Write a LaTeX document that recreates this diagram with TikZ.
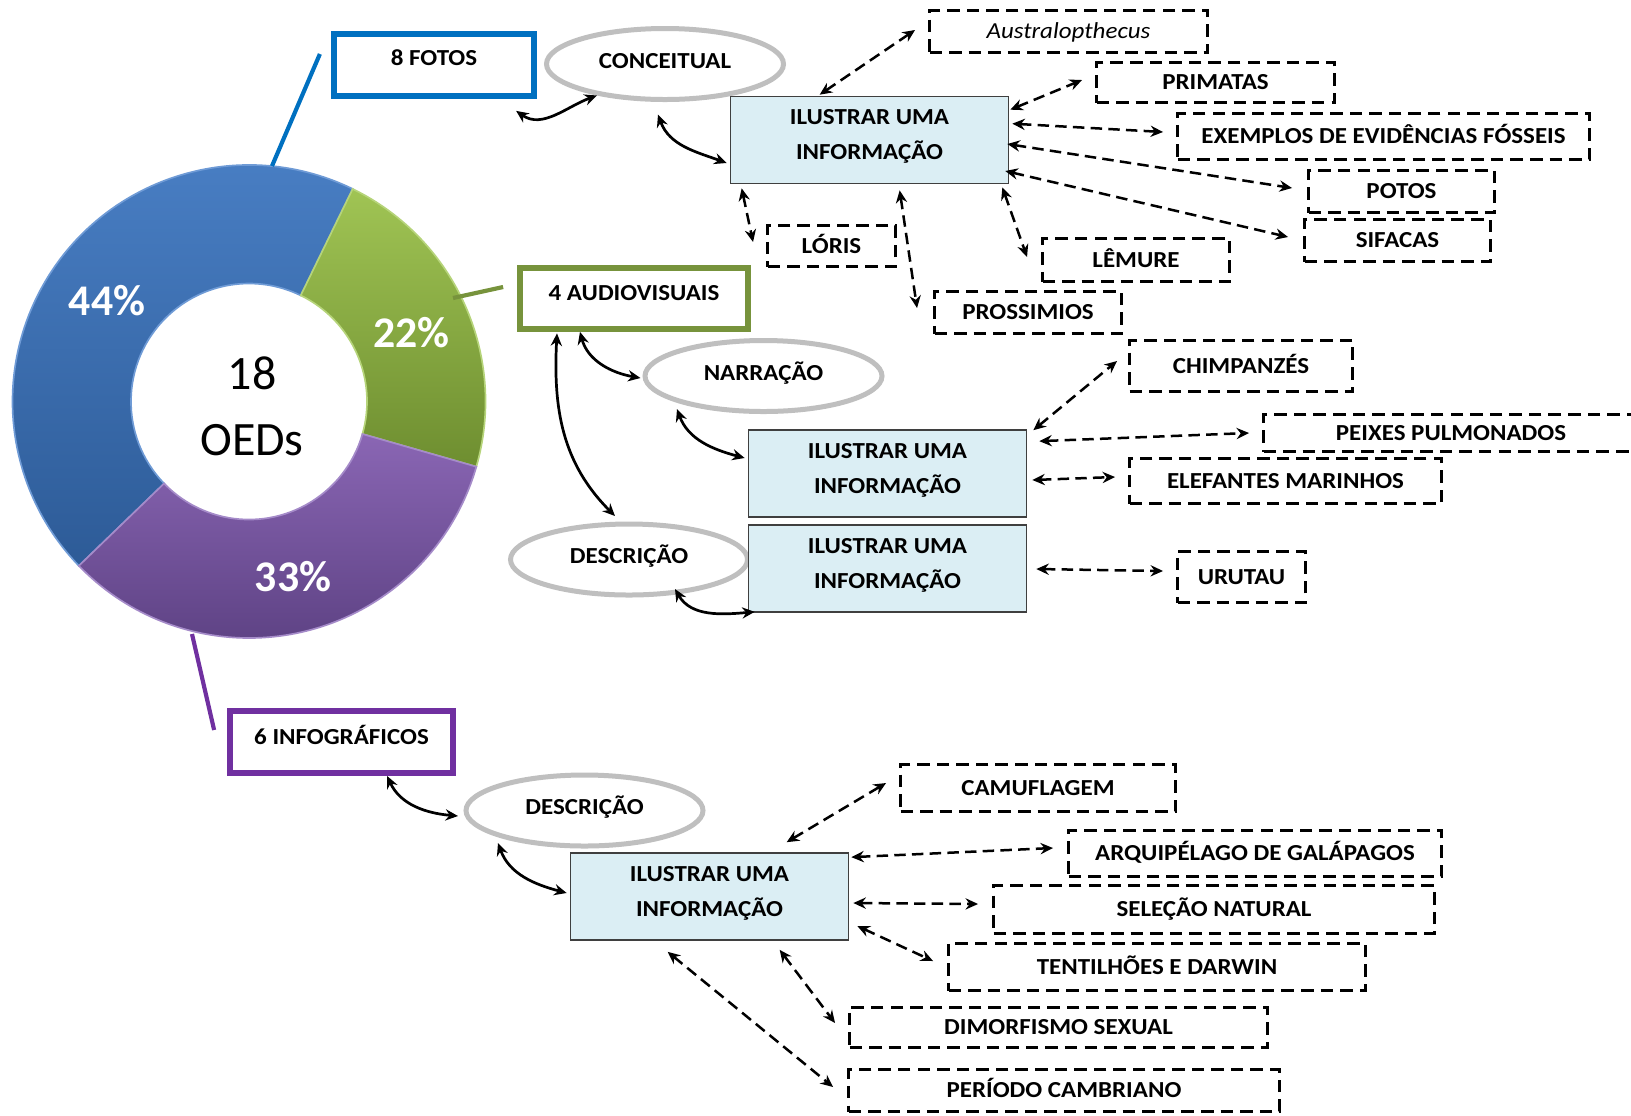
\documentclass[tikz,border=0pt]{standalone}
\usepackage{fontspec}
\setmainfont{Carlito}
\newfontfamily\boxfont{Carlito}[FakeStretch=1.09]

\usetikzlibrary{arrows.meta,calc,shapes.geometric}

\definecolor{fotoblue}{HTML}{0070C0}
\definecolor{audgreen}{HTML}{77933C}
\definecolor{infopurple}{HTML}{7030A0}
\definecolor{ovalgray}{HTML}{BFBFBF}
\definecolor{boxfill}{HTML}{DBEEF4}
\definecolor{boxline}{HTML}{3F3F3F}
\definecolor{blueT}{HTML}{4A80C6}
\definecolor{blueB}{HTML}{2D5B97}
\definecolor{blueE}{HTML}{6F9BD6}
\definecolor{greenT}{HTML}{A0C454}
\definecolor{greenB}{HTML}{6E8E30}
\definecolor{greenE}{HTML}{B6D47A}
\definecolor{purpT}{HTML}{8A66B4}
\definecolor{purpB}{HTML}{5A3F80}
\definecolor{purpE}{HTML}{A58BC9}

\tikzset{
  t11/.style={font=\boxfont\fontsize{11}{13.2}\selectfont\bfseries},
  sz/.style 2 args={minimum width=#1*0.48pt, minimum height=#2*0.48pt},
  catbox/.style={rectangle, draw=#1, line width=3pt, fill=white, inner sep=0pt,
    t11, text height=7.1pt},
  oval/.style={ellipse, draw=ovalgray, line width=2.4pt, fill=white, inner sep=0pt,
    t11, text height=7.1pt, text depth=3pt, sz={237}{71}},
  infobox/.style={rectangle, draw=boxline, line width=0.8pt, fill=boxfill,
    inner sep=0pt, align=center, sz={278}{87},
    font=\boxfont\fontsize{11}{16.8}\selectfont\bfseries},
  dbox/.style={rectangle, draw, line width=1.4pt, dash pattern=on 6pt off 3.4pt,
    inner sep=0pt, t11, text height=7.1pt, text depth=0pt},
  darr/.style={line width=1.2pt, dash pattern=on 5.5pt off 3pt, <->},
  sarr/.style={line width=1.3pt, <->},
  pct/.style={text=white, font=\fontsize{21}{25}\selectfont\bfseries},
  ctr/.style={text=black, font=\fontsize{23}{27}\selectfont},
  leader/.style={line width=2pt},
}
\newcommand{\ilustrar}{ILUSTRAR UMA\\INFORMAÇÃO\rule[-5pt]{0pt}{0pt}}

\begin{document}
\begin{tikzpicture}[x=0.48pt,y=0.48pt,>={Stealth[length=6pt,width=5.4pt,inset=2pt]}]
\useasboundingbox (0,0) rectangle (1631,-1115);
\clip (0,0) rectangle (1631,-1115);

% ---------- doughnut chart ----------
\begin{scope}[shift={(249,-401.5)}]
  \shadedraw[top color=blueT, bottom color=blueB, draw=blueE, line width=0.8pt]
    (64:236.5) arc[start angle=64, end angle=224, radius=236.5]
    -- (224:118) arc[start angle=224, end angle=64, radius=118] -- cycle;
  \shadedraw[top color=greenT, bottom color=greenB, draw=greenE, line width=0.8pt]
    (-16:236.5) arc[start angle=-16, end angle=64, radius=236.5]
    -- (64:118) arc[start angle=64, end angle=-16, radius=118] -- cycle;
  \shadedraw[top color=purpT, bottom color=purpB, draw=purpE, line width=0.8pt]
    (224:236.5) arc[start angle=224, end angle=344, radius=236.5]
    -- (344:118) arc[start angle=344, end angle=224, radius=118] -- cycle;
\end{scope}
\node[pct] (p44) at (107,-301) {44\%};
\node[pct] (p22) at (411.5,-332.5) {22\%};
\node[pct] (p33) at (293,-576.5) {33\%};
\node[ctr] (n18) at (252,-373.5) {18};
\node[ctr] (noeds) at (252,-440) {OEDs};

% ---------- category boxes ----------
\node[catbox=fotoblue, sz={200}{61.5}, text depth=6.8pt] (fotos) at (434,-65) {8 FOTOS};
\node[catbox=audgreen, sz={228.5}{60.5}, text depth=5.3pt] (aud) at (634,-298.5) {4 AUDIOVISUAIS};
\node[catbox=infopurple, sz={222.5}{61.5}, text depth=4.8pt] (info) at (341.5,-742) {6 INFOGRÁFICOS};

\coordinate (c44) at (272,-166);
\coordinate (c22) at (453,-298);
\coordinate (c33) at (192,-634);
\draw[leader, fotoblue] ($(fotos.west)+(-11,11)$) -- (c44);
\draw[leader, audgreen] ($(aud.west)+(-13.5,11.5)$) -- (c22);
\draw[leader, infopurple] ($(info.west)+(-13,12)$) -- (c33);

% ---------- ovals ----------
\node[oval] (conc) at (665,-64) {CONCEITUAL};
\node[oval] (narr) at (763.5,-376) {NARRAÇÃO};
\node[oval] (desc1) at (629,-559.5) {DESCRIÇÃO};
\node[oval] (desc2) at (584.5,-810.5) {DESCRIÇÃO};

% ---------- information boxes ----------
\node[infobox] (b1) at (869.5,-140) {\ilustrar};
\node[infobox] (b2) at (887.5,-473.5) {\ilustrar};
\node[infobox] (b3) at (887.5,-568.5) {\ilustrar};
\node[infobox] (b4) at (709.5,-896.5) {\ilustrar};

% ---------- example boxes ----------
\node[dbox, sz={278}{42}, font=\boxfont\fontsize{11}{13.2}\selectfont\itshape] (aus) at (1068.5,-31.5) {Australopthecus};
\node[dbox, sz={238}{40}] (prim) at (1215.5,-82.5) {PRIMATAS};
\node[dbox, sz={412}{46}] (exem) at (1383.5,-136.5) {EXEMPLOS DE EVIDÊNCIAS FÓSSEIS};
\node[dbox, sz={186}{42}] (potos) at (1401.5,-191.5) {POTOS};
\node[dbox, sz={186}{42}] (sif) at (1397.5,-240.5) {SIFACAS};
\node[dbox, sz={128}{41}] (loris) at (831.5,-246) {LÓRIS};
\node[dbox, sz={187}{43}] (lem) at (1136,-260) {LÊMURE};
\node[dbox, sz={187}{42}] (pros) at (1028,-312.5) {PROSSIMIOS};
\node[dbox, sz={223}{51}] (chimp) at (1241,-366) {CHIMPANZÉS};
\node[dbox, sz={375}{37}] (peix) at (1451,-433) {PEIXES PULMONADOS};
\node[dbox, sz={312}{45}] (elef) at (1285.5,-481) {ELEFANTES MARINHOS};
\node[dbox, sz={128}{51}] (uru) at (1241.5,-577) {URUTAU};
\node[dbox, sz={275}{47}] (camu) at (1038,-788) {CAMUFLAGEM};
\node[dbox, sz={373}{46}] (arq) at (1255,-853.5) {ARQUIPÉLAGO DE GALÁPAGOS};
\node[dbox, sz={441}{48}] (sel) at (1214,-909.5) {SELEÇÃO NATURAL};
\node[dbox, sz={417}{47}] (tent) at (1157,-967) {TENTILHÕES E DARWIN};
\node[dbox, sz={418}{40}] (dim) at (1058.5,-1027.5) {DIMORFISMO SEXUAL};
\node[dbox, sz={431}{42}] (per) at (1064,-1090.5) {PERÍODO CAMBRIANO};

% ---------- curved links between categories, ovals and boxes ----------
\draw[sarr] ($(fotos.south east)+(-21,-12)$) to[out=-35,in=200] ($(conc.south)+(-68,6.5)$);
\draw[sarr] ($(conc.south)+(-7,-12.5)$) to[out=-70,in=160] ($(b1.west)+(-3,-23)$);
\draw[sarr] ($(aud.south)+(-54,0)$) to[out=-75,in=170] ($(narr.west)+(-2,-2)$);
\draw[sarr] ($(aud.south)+(-77,-1.5)$) to[out=-93,in=135] ($(desc1.north)+(-14,5.5)$);
\draw[sarr] ($(narr.south)+(-86.5,5)$) to[out=-70,in=165] ($(b2.west)+(-3,15.5)$);
\draw[sarr] ($(desc1.south)+(46,8.5)$) to[out=-60,in=185] ($(b3.south west)+(7,1)$);
\draw[sarr] ($(info.south)+(45.5,0)$) to[out=-65,in=175] ($(desc2.west)+(-5.5,-5.5)$);
\draw[sarr] ($(desc2.south)+(-86.5,5.5)$) to[out=-70,in=165] ($(b4.west)+(-3,3.5)$);

% ---------- dashed links to examples ----------
\draw[darr] ($(b1.north west)+(90,1)$) -- ($(aus.west)+(-13,1.5)$);
\draw[darr] ($(b1.north east)+(1,-14)$) -- ($(prim.west)+(-13,2.5)$);
\draw[darr] ($(b1.north east)+(3,-28)$) -- ($(exem.west)+(-13,4.5)$);
\draw[darr] ($(b1.east)+(-2,-4)$) -- ($(potos.west)+(-15,3.5)$);
\draw[darr] ($(b1.east)+(-4,-31)$) -- ($(sif.west)+(-15,3.5)$);
\draw[darr] ($(b1.south east)+(-7,-3)$) -- ($(lem.west)+(-14,3)$);
\draw[darr] ($(b1.south west)+(12,-4)$) -- ($(loris.west)+(-13,4)$);
\draw[darr] ($(b1.south west)+(170,-6)$) -- ($(pros.west)+(-16,4.5)$);

\draw[darr] ($(b2.north east)+(6,-1)$) -- ($(chimp.west)+(-11,5)$);
\draw[darr] ($(b2.north east)+(12,-12)$) -- ($(peix.west)+(-13,0)$);
\draw[darr] ($(b2.east)+(5,-6.5)$) -- ($(elef.west)+(-13,4)$);
\draw[darr] ($(b3.east)+(9,-0.5)$) -- ($(uru.west)+(-13,6)$);

\draw[darr] ($(b4.north west)+(217,10)$) -- ($(camu.west)+(-13,5)$);
\draw[darr] ($(b4.north east)+(2,-5)$) -- ($(arq.west)+(-14,5.5)$);
\draw[darr] ($(b4.east)+(4,-6.5)$) -- ($(sel.west)+(-14,5.5)$);
\draw[darr] ($(b4.east)+(8,-29.5)$) -- ($(tent.west)+(-14,6)$);
\draw[darr] ($(b4.south west)+(210,-9)$) -- ($(dim.west)+(-13,4.5)$);
\draw[darr] ($(b4.south west)+(98,-11)$) -- ($(per.west)+(-14,3.5)$);
\end{tikzpicture}
\end{document}
